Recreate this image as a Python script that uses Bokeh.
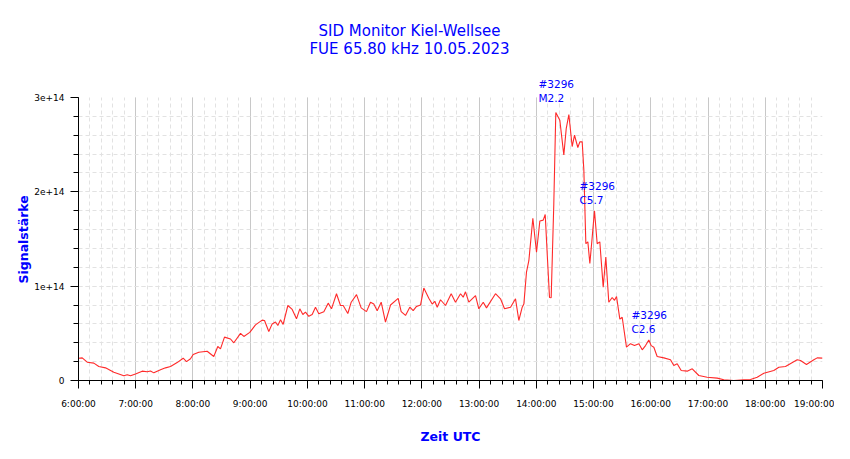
from bokeh.plotting import figure
from bokeh.models import FixedTicker, Label, Range1d, Title
from bokeh.embed import file_html
from bokeh.resources import INLINE

# ---------------- data ----------------
hours = [
    6.00, 6.065, 6.152, 6.268, 6.355, 6.472, 6.617, 6.705, 6.792, 6.851,
    6.909, 6.996, 7.113, 7.20, 7.258, 7.316, 7.433, 7.52, 7.608, 7.724,
    7.829, 7.887, 7.957, 8.004, 8.102, 8.248, 8.364, 8.434, 8.481, 8.551,
    8.656, 8.714, 8.831, 8.889, 8.993, 9.093, 9.209, 9.25, 9.325, 9.384,
    9.442, 9.483, 9.53, 9.576, 9.658, 9.734, 9.809, 9.867, 9.92, 9.966,
    10.024, 10.083, 10.141, 10.199, 10.287, 10.363, 10.421, 10.508, 10.578, 10.625,
    10.706, 10.765, 10.858, 10.939, 11.032, 11.102, 11.16, 11.219, 11.289, 11.364,
    11.452, 11.586, 11.638, 11.714, 11.789, 11.848, 11.906, 11.976, 12.034, 12.121,
    12.18, 12.226, 12.268, 12.325, 12.413, 12.512, 12.587, 12.675, 12.722, 12.762,
    12.82, 12.937, 12.995, 13.072, 13.129, 13.286, 13.374, 13.444, 13.549, 13.636,
    13.694, 13.753, 13.782, 13.828, 13.869, 13.939, 14.003, 14.061, 14.12, 14.155,
    14.19, 14.23, 14.259, 14.305, 14.34, 14.41, 14.48, 14.522, 14.568, 14.626,
    14.667, 14.725, 14.76, 14.801, 14.83, 14.865, 14.9, 14.935, 14.976, 15.016,
    15.063, 15.109, 15.168, 15.214, 15.266, 15.325, 15.366, 15.401, 15.459, 15.5,
    15.575, 15.645, 15.715, 15.791, 15.85, 15.908, 15.965, 16.007, 16.053, 16.111,
    16.228, 16.344, 16.402, 16.461, 16.531, 16.636, 16.724, 16.839, 16.985, 17.16,
    17.276, 17.451, 17.626, 17.742, 17.859, 17.975, 18.149, 18.237, 18.353, 18.558,
    18.616, 18.72, 18.849, 18.907, 19.0,
]

signal_e14 = [
    0.236, 0.24, 0.194, 0.184, 0.148, 0.134, 0.088, 0.07, 0.05, 0.06,
    0.05, 0.07, 0.099, 0.092, 0.10, 0.081, 0.113, 0.134, 0.148, 0.19,
    0.236, 0.20, 0.23, 0.276, 0.30, 0.31, 0.254, 0.36, 0.336, 0.46,
    0.44, 0.40, 0.50, 0.467, 0.51, 0.59, 0.64, 0.636, 0.52, 0.60,
    0.62, 0.583, 0.643, 0.594, 0.795, 0.753, 0.654, 0.76, 0.70, 0.724,
    0.68, 0.70, 0.777, 0.707, 0.73, 0.82, 0.76, 0.92, 0.795, 0.795,
    0.71, 0.83, 0.91, 0.77, 0.73, 0.83, 0.81, 0.74, 0.83, 0.62,
    0.80, 0.87, 0.73, 0.69, 0.777, 0.74, 0.785, 0.80, 0.98, 0.873,
    0.81, 0.84, 0.777, 0.856, 0.795, 0.92, 0.83, 0.92, 0.883, 0.94,
    0.83, 0.90, 0.76, 0.83, 0.77, 0.92, 0.866, 0.76, 0.777, 0.866,
    0.636, 0.777, 0.81, 1.15, 1.27, 1.72, 1.36, 1.69, 1.70, 1.76,
    1.34, 0.88, 0.877, 1.87, 2.84, 2.76, 2.39, 2.67, 2.82, 2.48,
    2.60, 2.47, 2.53, 2.53, 2.23, 1.45, 1.47, 1.24, 1.52, 1.80,
    1.45, 1.47, 0.99, 1.31, 0.83, 0.88, 0.85, 0.89, 0.65, 0.67,
    0.353, 0.39, 0.37, 0.39, 0.325, 0.37, 0.43, 0.37, 0.353, 0.254,
    0.24, 0.22, 0.16, 0.177, 0.106, 0.099, 0.124, 0.053, 0.035, 0.025,
    0.007, 0.0, 0.007, 0.011, 0.035, 0.077, 0.106, 0.141, 0.148, 0.22,
    0.212, 0.17, 0.22, 0.24, 0.237,
]
signal = [v * 1e14 for v in signal_e14]

x_tick_hours = list(range(6, 20))
x_tick_labels = ["%d:00:00" % h for h in x_tick_hours]

y_tick_values = [0, 1e14, 2e14, 3e14]
y_tick_labels = ["0", "1e+14", "2e+14", "3e+14"]

flare_ids = ["#3296", "#3296", "#3296"]
flare_classes = ["M2.2", "C5.7", "C2.6"]
flare_label_t = [14.038, 14.754, 15.663]
flare_label_v = [3.145e14, 2.065e14, 0.695e14]

title_lines = ["SID Monitor Kiel-Wellsee", "FUE 65.80 kHz 10.05.2023"]
x_axis_title = "Zeit UTC"
y_axis_title = "Signalstärke"

# ---------------- figure ----------------
FONT = "DejaVu Sans"
BLUE = "#0000ff"

Y_TOP = 3e14              # top of the drawn axis
FRAME_TOP_PX = 380.0      # frame height in px (frame starts at top of canvas)
AXIS_TOP_PX = 283.0       # px from bottom of frame to 3e14
y_end = Y_TOP * FRAME_TOP_PX / AXIS_TOP_PX

p = figure(width=834, height=450, output_backend="svg", toolbar_location=None,
           x_range=Range1d(6, 19), y_range=Range1d(0, y_end),
           min_border_left=78, min_border_right=12,
           min_border_top=0, min_border_bottom=70)
p.title.visible = False
p.outline_line_color = None
p.background_fill_color = "white"
p.border_fill_color = "white"

minor_x = [6 + i * 0.2 for i in range(66)]
minor_y = [i * 2e13 for i in range(16)]

p.xaxis.ticker = FixedTicker(ticks=x_tick_hours, minor_ticks=minor_x)
p.xaxis.major_label_overrides = {h: l for h, l in zip(x_tick_hours, x_tick_labels)}
p.yaxis.ticker = FixedTicker(ticks=y_tick_values, minor_ticks=minor_y)
p.yaxis.major_label_overrides = {v: l for v, l in zip(y_tick_values, y_tick_labels)}
p.yaxis.bounds = (0, Y_TOP)

for ax in (p.xaxis, p.yaxis):
    ax.axis_line_color = "black"
    ax.major_tick_line_color = "black"
    ax.minor_tick_line_color = "black"
    ax.major_tick_out = 8
    ax.major_tick_in = 0
    ax.minor_tick_out = 5
    ax.minor_tick_in = 0
    ax.major_label_text_font = FONT
    ax.major_label_text_font_size = "9px"
    ax.major_label_text_color = "black"
    ax.axis_label_text_font = FONT
    ax.axis_label_text_font_style = "bold"
    ax.axis_label_text_font_size = "12.5px"
    ax.axis_label_text_color = BLUE

p.xaxis.minor_tick_out = 4
p.xaxis.major_label_standoff = 10
p.yaxis.major_label_standoff = 6
p.xaxis.axis_label = x_axis_title
p.xaxis.axis_label_standoff = 17

# y axis title: a side Title so it can be centred on the 0..3e14 part of the axis
p.add_layout(Title(text=y_axis_title, align="left", offset=97, standoff=2,
                   text_font=FONT, text_font_style="bold",
                   text_font_size="12.5px", text_color=BLUE), "left")

p.xgrid.ticker = FixedTicker(ticks=x_tick_hours[1:-1], minor_ticks=minor_x[1:-1])
p.xgrid.cross_bounds = (0, Y_TOP)
p.xgrid.grid_line_color = "#c8c8c8"
p.xgrid.grid_line_width = 1
p.xgrid.minor_grid_line_color = "#e2e2e2"
p.xgrid.minor_grid_line_dash = "4 3"

p.ygrid.ticker = FixedTicker(ticks=y_tick_values[1:-1], minor_ticks=minor_y[1:-1])
p.ygrid.grid_line_color = "#e2e2e2"
p.ygrid.grid_line_dash = "4 3"
p.ygrid.minor_grid_line_color = "#e2e2e2"
p.ygrid.minor_grid_line_dash = "4 3"

p.line(hours, signal, line_color="#ff2a2a", line_width=1.1)

for fid, fcls, ft, fv in zip(flare_ids, flare_classes, flare_label_t, flare_label_v):
    for txt, off in ((fid, 0), (fcls, -14.5)):
        p.add_layout(Label(x=ft, y=fv, y_offset=off, text=txt,
                           text_font=FONT, text_font_size="10.5px",
                           text_color=BLUE, text_align="left",
                           text_baseline="middle"))

title_y = [3.703e14, 3.512e14]
for txt, ty in zip(title_lines, title_y):
    p.add_layout(Label(x=11.784, y=ty, text=txt, text_font=FONT,
                       text_font_size="15px", text_color=BLUE,
                       text_align="center", text_baseline="middle"))

open("out.html", "w").write(file_html(p, INLINE))
